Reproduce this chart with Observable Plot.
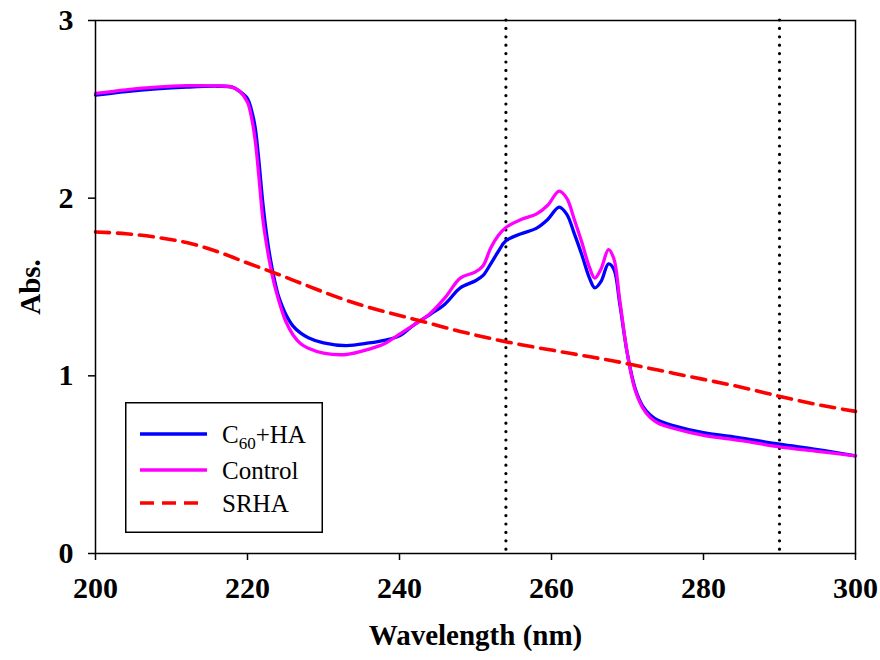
<!DOCTYPE html>
<html>
<head>
<meta charset="utf-8">
<script src="https://cdn.jsdelivr.net/npm/d3@7"></script>
<script src="https://cdn.jsdelivr.net/npm/@observablehq/plot@0.6"></script>
<style>
  body { margin: 0; background: white; }
  #wrap { position: relative; width: 880px; height: 660px; font-family: "Liberation Serif", "Times New Roman", Times, "DejaVu Serif", serif; }
  #wrap svg, #wrap svg text { font-family: "Liberation Serif", "Times New Roman", Times, "DejaVu Serif", serif !important; }
  #legend { position: absolute; left: 125px; top: 402px; width: 198px; height: 131px; }
</style>
</head>
<body>
<div id="wrap"></div>
<script>
// Wavelengths (nm) shared by the C60+HA and Control spectra
const wavelength = [200, 204, 208, 212, 216, 218, 219, 220, 220.5, 221, 221.5, 222, 222.5, 223, 223.5, 224, 224.5, 225, 226, 227, 228, 230, 233, 236, 238, 240, 242, 244, 246, 248, 250, 251, 252, 253, 254, 256, 258, 259.5, 261, 262, 263, 264, 265, 265.7, 266.5, 267.5, 268.2, 269, 270, 271, 272, 273, 274, 276, 280, 285, 290, 295, 300];
const c60ha = [2.58, 2.60, 2.615, 2.625, 2.63, 2.625, 2.60, 2.56, 2.50, 2.40, 2.21, 1.98, 1.80, 1.66, 1.55, 1.46, 1.40, 1.35, 1.28, 1.24, 1.215, 1.185, 1.17, 1.185, 1.20, 1.225, 1.29, 1.345, 1.405, 1.495, 1.535, 1.565, 1.63, 1.70, 1.76, 1.80, 1.83, 1.88, 1.95, 1.91, 1.80, 1.68, 1.55, 1.495, 1.53, 1.63, 1.60, 1.40, 1.12, 0.93, 0.83, 0.78, 0.75, 0.72, 0.68, 0.65, 0.615, 0.585, 0.55];
const control = [2.59, 2.61, 2.625, 2.633, 2.632, 2.625, 2.60, 2.54, 2.46, 2.33, 2.12, 1.89, 1.74, 1.62, 1.52, 1.44, 1.37, 1.31, 1.23, 1.18, 1.155, 1.128, 1.12, 1.15, 1.18, 1.235, 1.29, 1.35, 1.44, 1.55, 1.585, 1.62, 1.72, 1.79, 1.835, 1.88, 1.91, 1.96, 2.04, 2.00, 1.88, 1.75, 1.61, 1.55, 1.60, 1.71, 1.66, 1.42, 1.12, 0.92, 0.82, 0.765, 0.735, 0.705, 0.665, 0.635, 0.60, 0.575, 0.55];
// SRHA spectrum
const srhaWavelength = [200, 204, 208, 212, 216, 220, 224, 228, 232, 236, 240, 244, 248, 252, 256, 260, 264, 268, 272, 276, 280, 284, 288, 292, 296, 300];
const srha = [1.81, 1.80, 1.78, 1.75, 1.70, 1.635, 1.572, 1.505, 1.44, 1.385, 1.34, 1.295, 1.25, 1.21, 1.175, 1.145, 1.115, 1.085, 1.05, 1.015, 0.98, 0.945, 0.905, 0.865, 0.83, 0.80];
// Reference wavelengths (dotted lines)
const markers = [254, 290];
const xTicks = [200, 220, 240, 260, 280, 300];
const yTicks = [0, 1, 2, 3];
const seriesNames = ["C60+HA", "Control", "SRHA"];

const rowsC60 = wavelength.map((w, i) => ({w, a: c60ha[i]}));
const rowsCtl = wavelength.map((w, i) => ({w, a: control[i]}));
const rowsSrha = srhaWavelength.map((w, i) => ({w, a: srha[i]}));

const serif = '"Liberation Serif", "Times New Roman", Times, "DejaVu Serif", serif';

const chart = Plot.plot({
  width: 880,
  height: 660,
  marginLeft: 95,
  marginRight: 25,
  marginTop: 20,
  marginBottom: 107,
  style: {fontFamily: serif, fontSize: "30px", fontWeight: "bold", background: "white", color: "black"},
  x: {domain: [200, 300]},
  y: {domain: [0, 3]},
  marks: [
    Plot.axisX({ticks: xTicks, tickSize: 7, tickPadding: 16, label: null, strokeWidth: 1.5, tickFormat: d3.format("d"), fontSize: 30, fontWeight: "bold"}),
    Plot.axisY({ticks: yTicks, tickSize: 7, tickPadding: 15, label: null, strokeWidth: 1.5, tickFormat: d3.format("d"), fontSize: 30, fontWeight: "bold"}),
    Plot.ruleX(markers, {stroke: "black", strokeWidth: 3.2, strokeDasharray: "0 8.4", strokeLinecap: "round"}),
    Plot.line(rowsC60, {x: "w", y: "a", stroke: "#0000ff", strokeWidth: 3.3, curve: "catmull-rom"}),
    Plot.line(rowsCtl, {x: "w", y: "a", stroke: "#ff00ff", strokeWidth: 3.3, curve: "catmull-rom"}),
    Plot.line(rowsSrha, {x: "w", y: "a", stroke: "#ff0000", strokeWidth: 3.6, strokeDasharray: "14 8", curve: "catmull-rom"}),
    Plot.frame({stroke: "black", strokeWidth: 1.5}),
    Plot.text(["Wavelength (nm)"], {frameAnchor: "bottom", dy: 91, text: d => d, fontSize: 29, fontWeight: "bold"}),
    Plot.text(["Abs."], {frameAnchor: "left", dx: -65, rotate: -90, textAnchor: "middle", text: d => d, fontSize: 29, fontWeight: "bold"})
  ]
});

const wrap = document.getElementById("wrap");
wrap.appendChild(chart);

// Legend overlay
const legend = document.createElement("div");
legend.id = "legend";
const rowsY = [32, 68, 101];
const styles = [
  {stroke: "#0000ff", dash: null},
  {stroke: "#ff00ff", dash: null},
  {stroke: "#ff0000", dash: "14 8"}
];
let svg = `<svg width="198" height="131" xmlns="http://www.w3.org/2000/svg" style="font-size:25px;">`;
svg += `<rect x="0.75" y="0.75" width="196.5" height="129.5" fill="white" stroke="black" stroke-width="1.5"/>`;
seriesNames.forEach((name, i) => {
  const s = styles[i];
  svg += `<line x1="15" x2="${s.dash ? 77 : 82}" y1="${rowsY[i]}" y2="${rowsY[i]}" stroke="${s.stroke}" stroke-width="3.5" ${s.dash ? `stroke-dasharray="${s.dash}"` : ""}/>`;
  let label = name;
  if (name === "C60+HA") {
    label = `C<tspan font-size="17" dy="6">60</tspan><tspan dy="-6">+HA</tspan>`;
  }
  svg += `<text x="97" y="${rowsY[i]}" dy="0.35em" fill="black">${label}</text>`;
});
svg += `</svg>`;
legend.innerHTML = svg;
wrap.appendChild(legend);
</script>
</body>
</html>
